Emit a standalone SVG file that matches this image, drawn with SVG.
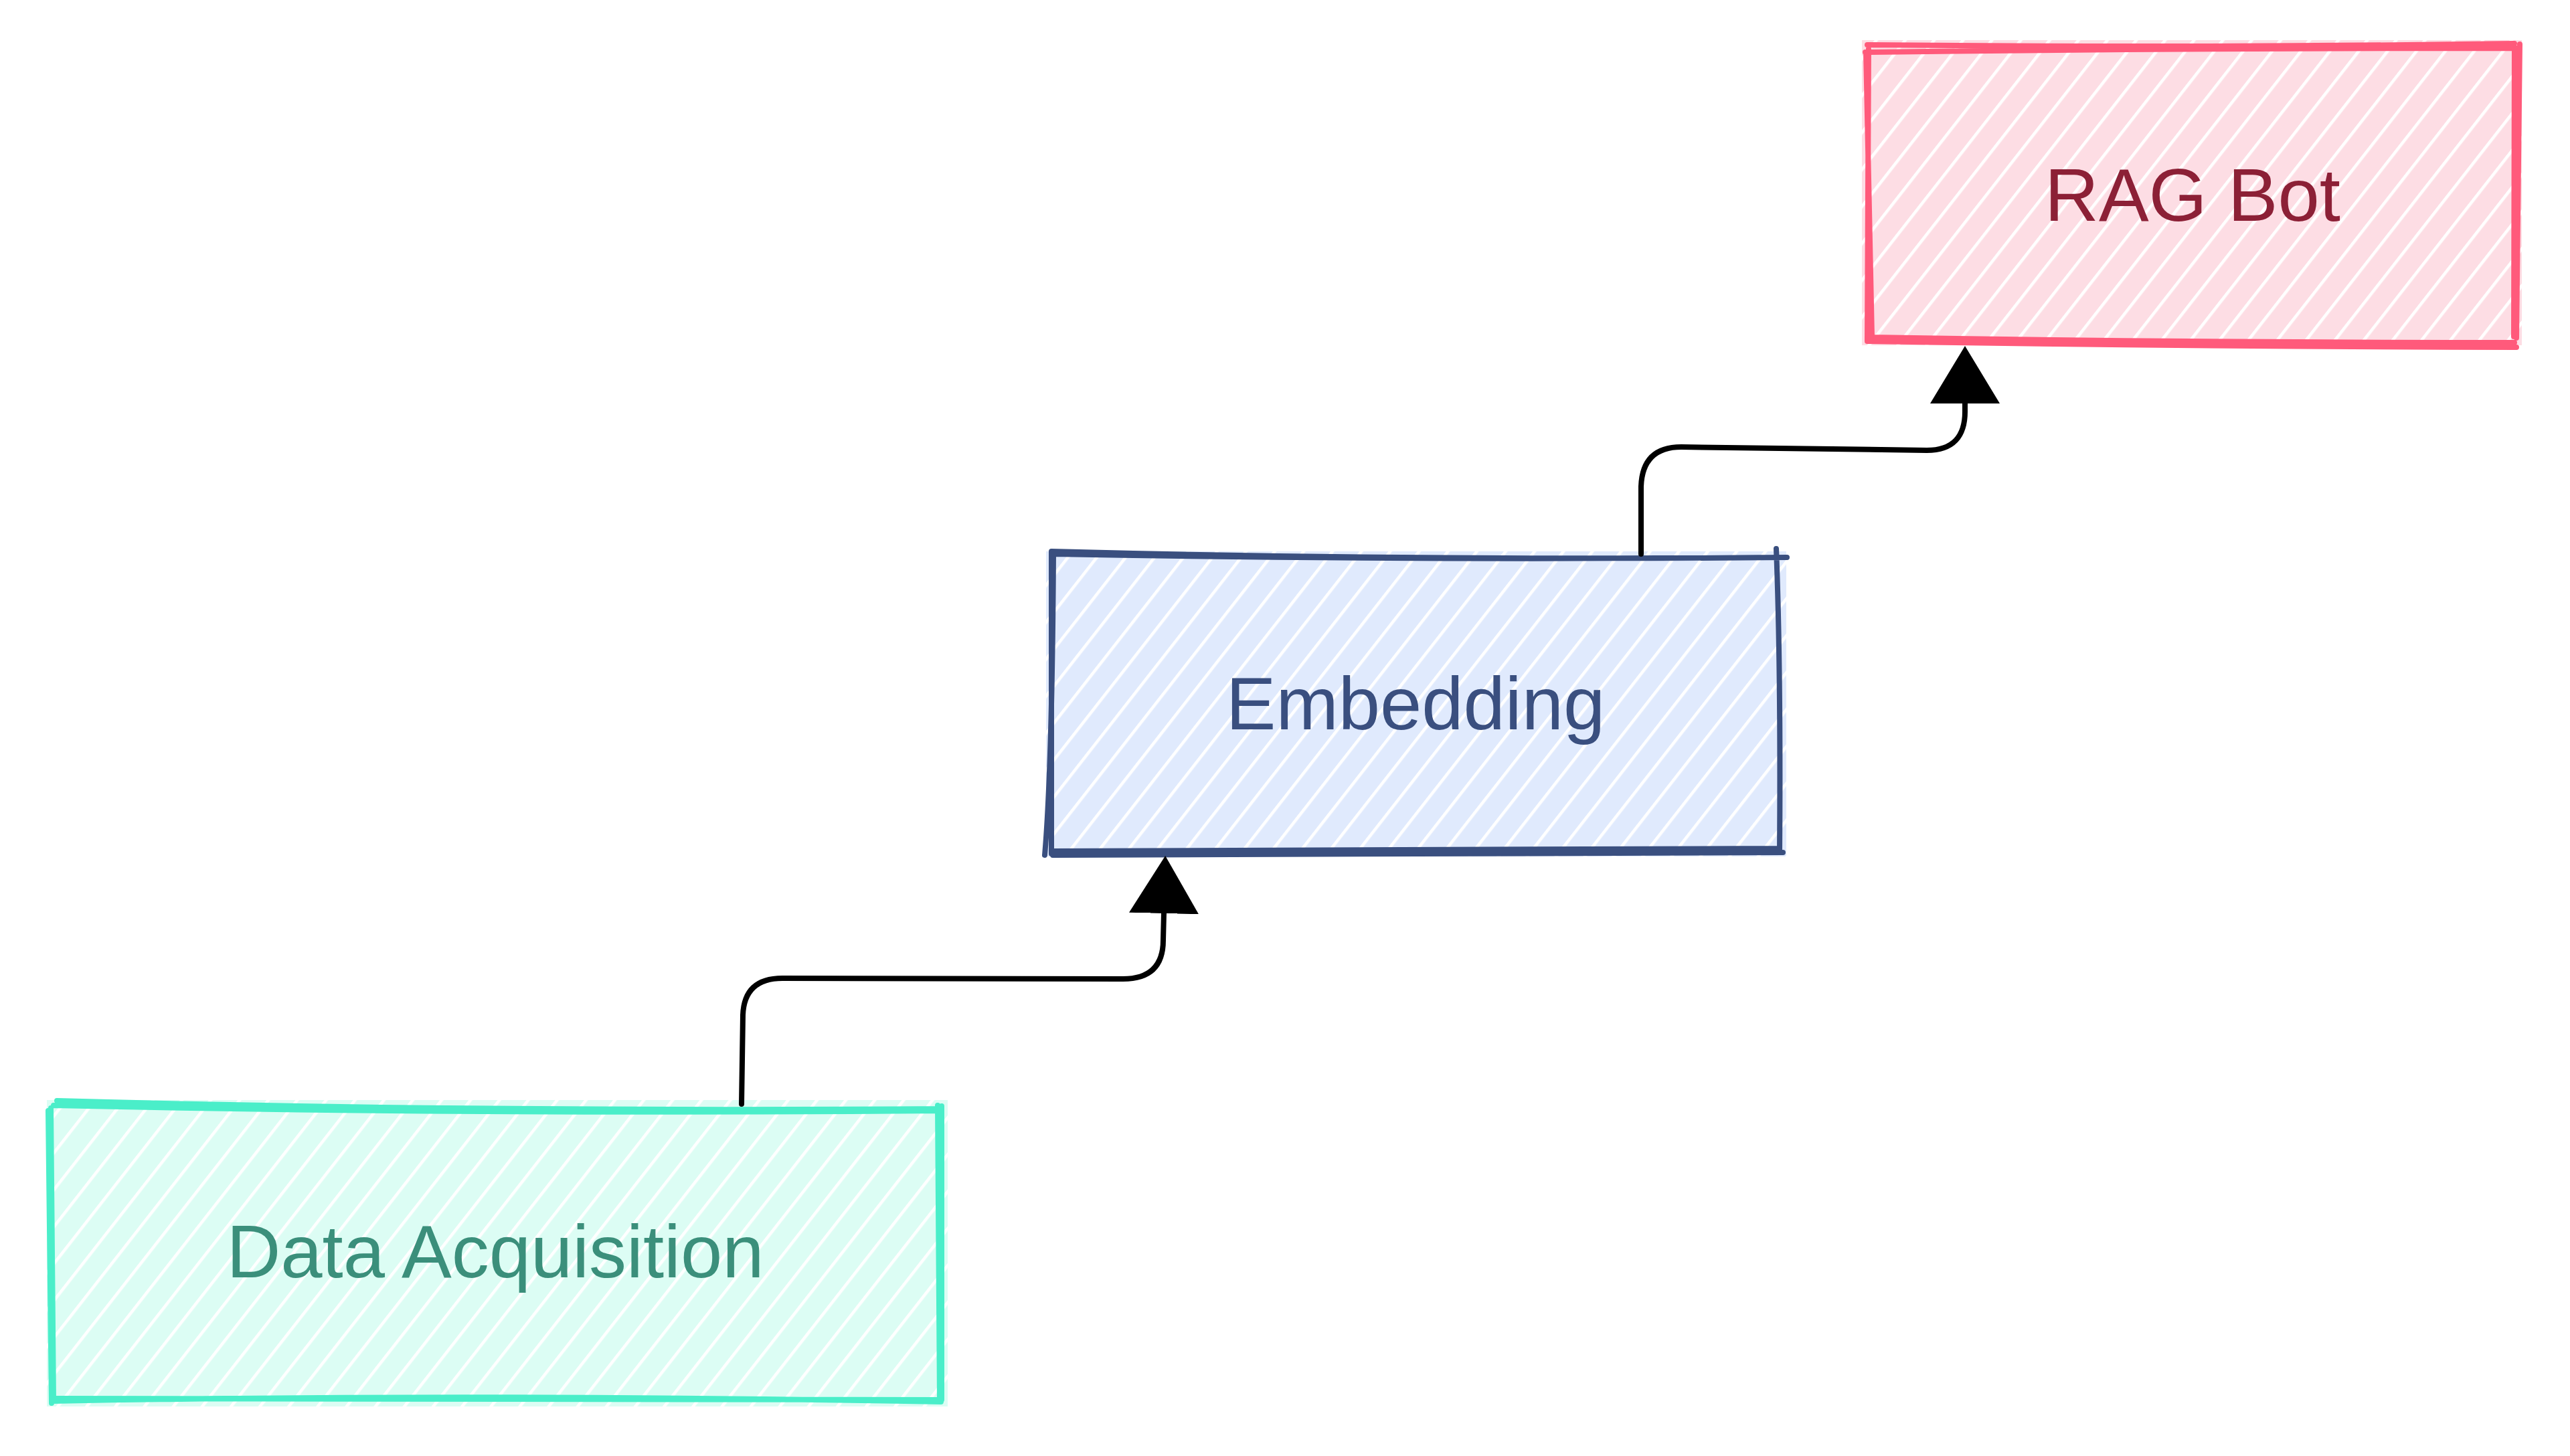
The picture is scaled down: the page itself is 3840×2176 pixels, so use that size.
<svg xmlns="http://www.w3.org/2000/svg" width="3840" height="2176" viewBox="0 0 3840 2176">
  <defs>
    <pattern id="hatchGreen" patternUnits="userSpaceOnUse" width="34" height="34" patternTransform="rotate(38)">
      <rect width="34" height="34" fill="#dcfdf4"/>
      <line x1="2" y1="0" x2="2" y2="34" stroke="#ffffff" stroke-width="5"/>
    </pattern>
    <pattern id="hatchBlue" patternUnits="userSpaceOnUse" width="34" height="34" patternTransform="rotate(38)">
      <rect width="34" height="34" fill="#e0eafd"/>
      <line x1="2" y1="0" x2="2" y2="34" stroke="#ffffff" stroke-width="5"/>
    </pattern>
    <pattern id="hatchPink" patternUnits="userSpaceOnUse" width="34" height="34" patternTransform="rotate(38)">
      <rect width="34" height="34" fill="#fddde4"/>
      <line x1="2" y1="0" x2="2" y2="34" stroke="#ffffff" stroke-width="5"/>
    </pattern>
    <marker id="arrow" viewBox="0 0 86 104" refX="0" refY="52" markerWidth="86" markerHeight="104" markerUnits="userSpaceOnUse" orient="auto">
      <path d="M0,0 L86,52 L0,104 Z" fill="#000000"/>
    </marker>
  </defs>
  <style>
    .label { font-family: "Liberation Sans", Arial, sans-serif; font-size: 112px; text-anchor: middle; }
    .border { fill: none; stroke-width: 8; stroke-linecap: round; stroke-linejoin: round; }
    .edge { fill: none; stroke: #000000; stroke-width: 8; stroke-linecap: round; stroke-linejoin: round; }
  </style>
  <rect width="3840" height="2176" fill="#ffffff"/>

  <g id="node-data-acquisition">
    <rect x="70" y="1644" width="1346" height="458" fill="url(#hatchGreen)"/>
    <path class="border" stroke="#4aeec9" d="M85 1645 Q 700 1662 1406 1657 M80 1652 Q 700 1666 1404 1660 M76 1656 L 80 2093 M72 1660 L 77 2097 M78 2094 Q 700 2082 1406 2095 M84 2090 Q 700 2088 1406 2092 M1401 1652 L 1404 2093 M1407 1653 L 1407 2092"/>
    <text class="label" x="740" y="1909" fill="#3b8f7b">Data Acquisition</text>
  </g>

  <g id="node-embedding">
    <rect x="1563" y="824" width="1106" height="456" fill="url(#hatchBlue)"/>
    <path class="border" stroke="#3a4f7f" d="M1571 824 Q 2100 838 2670 833 M1574 828 Q 2100 838 2656 833 M1571 824 L 1571 1276 M1574 828 Q 1572 1150 1561 1278 M1573 1278 L 2664 1274 M1575 1272 L 2657 1268 M2654 820 Q 2661 1000 2659 1274"/>
    <text class="label" x="2115" y="1090" fill="#3a4f7f">Embedding</text>
  </g>

  <g id="node-rag-bot">
    <rect x="2782" y="60" width="986" height="456" fill="url(#hatchPink)"/>
    <path class="border" stroke="#ff5a7b" d="M2790 67 Q 3270 72 3757 65 M2787 78 Q 3270 72 3760 72 M2792 73 L 2790 510 M2788 78 L 2797 502 M2790 510 Q 3270 518 3760 519 M2797 504 Q 3270 512 3757 512 M3765 66 L 3760 505 M3757 72 L 3756 503"/>
    <text class="label" x="3276" y="330" fill="#8c2036">RAG Bot</text>
  </g>

  <g id="connectors">
    <path class="edge" marker-end="url(#arrow)" d="M1108 1650 L 1110 1517 Q 1112 1462 1169 1462 L 1678 1463 Q 1738 1463 1738 1405 L 1739 1365"/>
    <path class="edge" marker-end="url(#arrow)" d="M2452 828 L 2452 727 Q 2454 668 2512 668 L 2879 673 Q 2937 673 2936 613 L 2936 603"/>
  </g>
</svg>
